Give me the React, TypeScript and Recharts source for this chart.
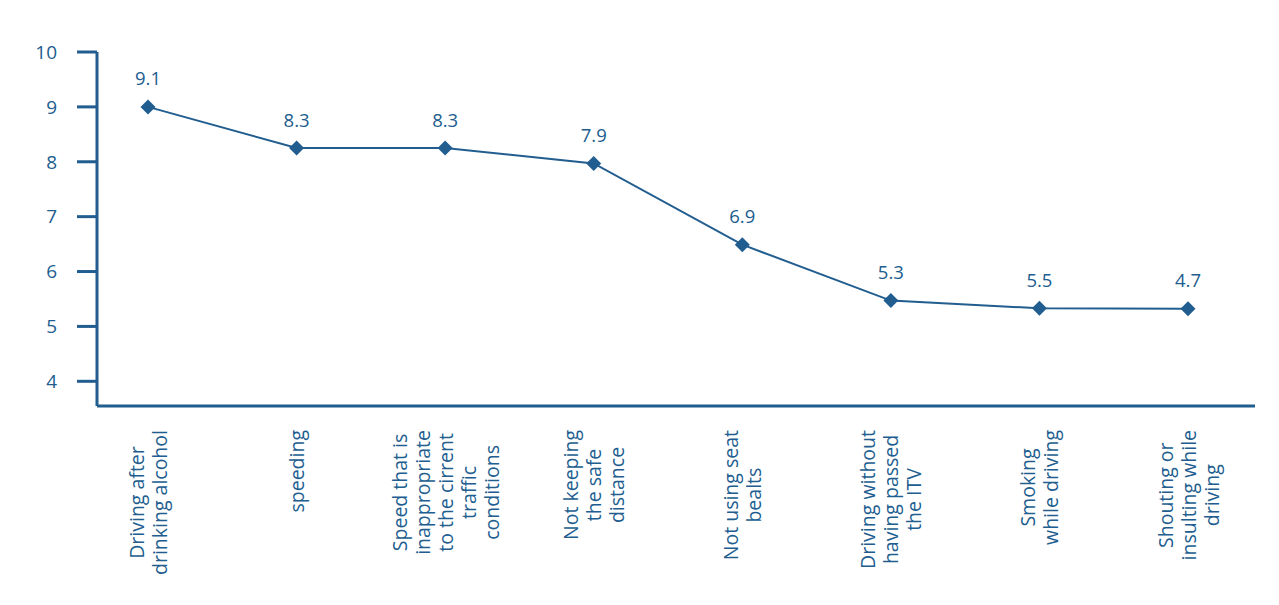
import { LineChart, Line, XAxis, YAxis } from 'recharts';

// point heights as plotted, and the value labels printed above them
const categories = [
    'Driving after\ndrinking alcohol',
    'speeding',
    'Speed that is\ninappropriate\nto the cirrent\ntraffic\nconditions',
    'Not keeping\nthe safe\ndistance',
    'Not using seat\nbealts',
    'Driving without\nhaving passed\nthe ITV',
    'Smoking\nwhile driving',
    'Shouting or\ninsulting while\ndriving',
];
const scores = [9.0, 8.25, 8.25, 7.97, 6.49, 5.47, 5.33, 5.32];
const scoreLabels = ['9.1', '8.3', '8.3', '7.9', '6.9', '5.3', '5.5', '4.7'];
const yTicks = [4, 5, 6, 7, 8, 9, 10];

const BLUE = '#215d8f';
const FONT = '"Open Sans", sans-serif';
const CAT_SIZE = 19.5;

const data = categories.map((name, i) => ({ name, score: scores[i], label: scoreLabels[i] }));

let ctx: CanvasRenderingContext2D | null = null;
function textWidth(s: string) {
    if (!ctx) {
        ctx = document.createElement('canvas').getContext('2d');
    }
    if (!ctx) return s.length * 9.5;
    ctx.font = `${CAT_SIZE}px ${FONT}`;
    return ctx.measureText(s).width;
}

function CategoryTick(props: any) {
    const { x, payload } = props;
    const lines: string[] = String(payload.value).split('\n');
    const maxW = Math.max(...lines.map(textWidth));
    const top = 430;
    const cy = top + maxW / 2;
    const lh = 23;
    return (
        <g>
            {lines.map((line, i) => {
                const cx = x + (i - (lines.length - 1) / 2) * lh;
                return (
                    <text
                        key={i}
                        x={cx}
                        y={cy}
                        transform={`rotate(-90, ${cx}, ${cy})`}
                        textAnchor="middle"
                        dominantBaseline="central"
                        fill={BLUE}
                        fontSize={CAT_SIZE}
                        fontFamily={FONT}
                    >
                        {line}
                    </text>
                );
            })}
        </g>
    );
}

function Diamond(props: any) {
    const { cx, cy } = props;
    if (cx == null || cy == null) return null;
    const r = 7.5;
    return (
        <polygon
            points={`${cx},${cy - r} ${cx + r},${cy} ${cx},${cy + r} ${cx - r},${cy}`}
            fill={BLUE}
        />
    );
}

function ValueLabel(props: any) {
    const { x, y, index } = props;
    return (
        <text
            x={x}
            y={y - 29}
            textAnchor="middle"
            dominantBaseline="central"
            fill={BLUE}
            fontSize={18.5}
            fontFamily={FONT}
        >
            {scoreLabels[index]}
        </text>
    );
}

export default function App() {
    return (
        <div style={{ position: 'absolute', left: 0, top: 0, background: '#fff' }}>
            <LineChart
                width={1279}
                height={605}
                data={data}
                margin={{ top: 52, right: 24, left: 0, bottom: 0 }}
            >
                <XAxis
                    dataKey="name"
                    height={199}
                    padding={{ left: 51, right: 67 }}
                    axisLine={{ stroke: BLUE, strokeWidth: 3 }}
                    tickLine={false}
                    interval={0}
                    tick={<CategoryTick />}
                />
                <YAxis
                    width={97}
                    domain={[3.55, 10]}
                    ticks={yTicks}
                    allowDataOverflow
                    axisLine={{ stroke: BLUE, strokeWidth: 3 }}
                    tickLine={{ stroke: BLUE, strokeWidth: 3 }}
                    tickSize={20}
                    tickMargin={20}
                    tick={{ fill: BLUE, fontSize: 19, fontFamily: FONT }}
                />
                <Line
                    dataKey="score"
                    type="linear"
                    stroke={BLUE}
                    strokeWidth={2}
                    dot={<Diamond />}
                    activeDot={false}
                    label={<ValueLabel />}
                    isAnimationActive={false}
                />
            </LineChart>
        </div>
    );
}
